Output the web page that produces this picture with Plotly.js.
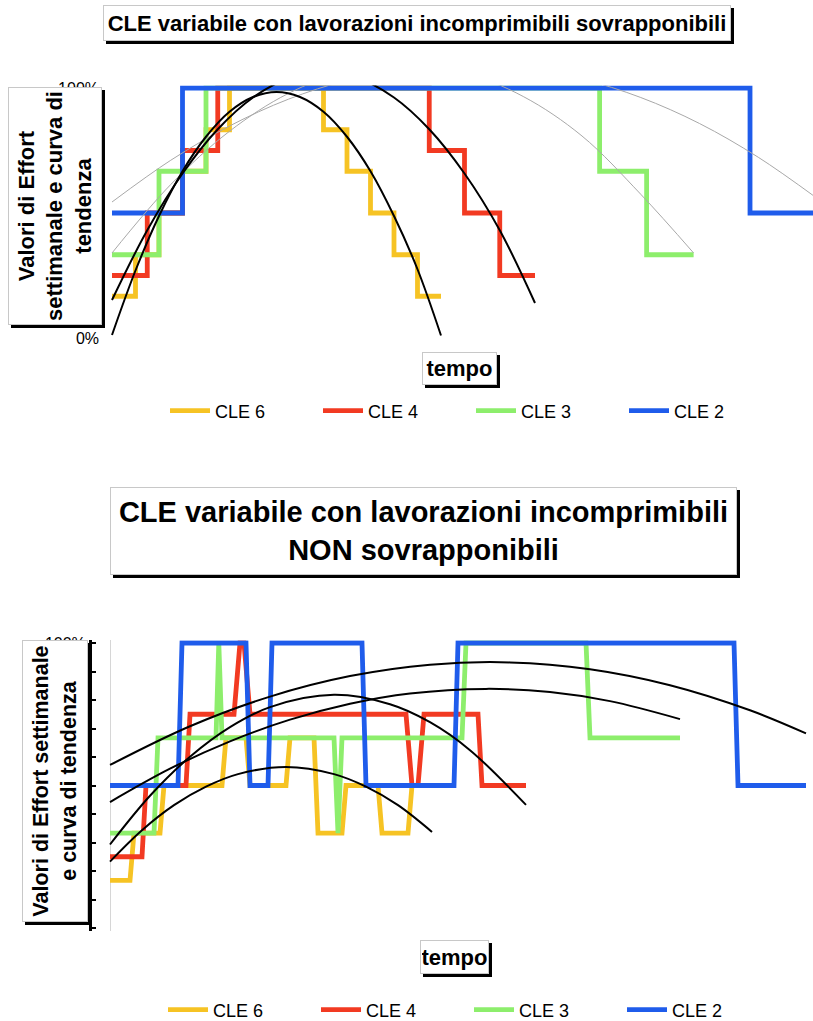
<!DOCTYPE html>
<html>
<head>
<meta charset="utf-8">
<script src="https://cdn.plot.ly/plotly-3.0.1.min.js"></script>
<style>html,body{margin:0;padding:0;background:#fff;}#chart{width:813px;height:1021px;}</style>
</head>
<body>
<div id="chart"></div>
<script>
// ---------- DATA ----------
// Top chart: CLE variabile con lavorazioni incomprimibili sovrapponibili (time in weeks)
const seriesNames = ['CLE 6', 'CLE 4', 'CLE 3', 'CLE 2'];
const topWeeksCLE6 = [0, 2, 4, 6, 8, 10, 18, 20, 22, 24, 26, 28];
const topCLE6      = [16.7, 33.3, 50, 66.7, 83.3, 100, 83.3, 66.7, 50, 33.3, 16.7, 16.7];
const topWeeksCLE4 = [0, 3, 6, 9, 27, 30, 33, 36];
const topCLE4      = [25, 50, 75, 100, 75, 50, 25, 25];
const topWeeksCLE3 = [0, 4, 8, 41.5, 45.5, 49.5];
const topCLE3      = [33.3, 66.7, 100, 66.7, 33.3, 33.3];
const topWeeksCLE2 = [0, 6, 54.3, 60];
const topCLE2      = [50, 100, 50, 50];

// Top chart trend curves
const topTrendWeeks6 = [0, 2, 4, 6, 8, 10, 12, 14, 16, 18, 20, 22, 24, 26, 28];
const topTrend6      = [1.2, 27.0, 48.8, 66.7, 80.5, 90.5, 96.4, 98.4, 96.4, 90.5, 80.5, 66.7, 48.8, 27.5, 1.0];
const topTrendWeeks4 = [0, 3, 6, 9, 12, 15, 18, 21, 24, 27, 30, 33, 36];
const topTrend4      = [15.2, 43.1, 65.8, 83.5, 96.2, 103.8, 106.3, 103.8, 96.2, 83.5, 65.8, 43.1, 14.0];
const topTrendWeeks3 = [0, 5, 10, 15, 20, 25, 30, 35, 40, 45, 49.5];
const topTrend3      = [34.0, 61.4, 82.7, 97.8, 106.7, 109.5, 106.1, 96.6, 80.8, 57.5, 34.0];
const topTrendWeeks2 = [0, 5, 10, 15, 20, 25, 30, 35, 40, 45, 50, 55, 60];
const topTrend2      = [54.4, 71.1, 84.8, 95.5, 103.1, 107.8, 109.4, 108.0, 103.6, 96.2, 85.8, 72.3, 55.9];

// Bottom chart: CLE variabile con lavorazioni incomprimibili NON sovrapponibili (time in weeks)
const botWeeksCLE6 = [0, 5, 6, 12.5, 13.5, 28, 29, 34, 35, 44, 45, 51, 52, 58, 59, 67, 68, 74.5, 75.5, 80];
const botCLE6      = [16.7, 16.7, 33.3, 33.3, 50, 50, 66.7, 66.7, 50, 50, 66.7, 66.7, 33.3, 33.3, 50, 50, 33.3, 33.3, 50, 50];
const botWeeksCLE4 = [0, 8, 9, 19, 20, 31, 32.5, 33.5, 35, 74, 75.5, 77, 78.5, 92, 93, 104];
const botCLE4      = [25, 25, 50, 50, 75, 75, 100, 100, 75, 75, 50, 50, 75, 75, 50, 50];
const botWeeksCLE3 = [0, 11, 12, 26.5, 27.2, 28, 56, 57, 58, 88, 89, 119, 120, 142.5];
const botCLE3      = [33.3, 33.3, 66.7, 66.7, 100, 66.7, 66.7, 33.3, 66.7, 66.7, 100, 100, 66.7, 66.7];
const botWeeksCLE2 = [0, 17, 18, 34, 35, 39.5, 40.5, 63, 64, 86, 87, 156, 157, 174];
const botCLE2      = [50, 50, 100, 100, 50, 50, 100, 100, 50, 50, 100, 100, 50, 50];

// Bottom chart trend curves
const botTrendWeeks6 = [0, 8, 16, 24, 32, 44, 56, 64, 72, 80.5];
const botTrend6      = [23.3, 34.3, 43.1, 49.6, 54.0, 56.5, 54.0, 49.6, 43.1, 33.7];
const botTrendWeeks4 = [0, 10, 20, 30, 40, 56, 70, 80, 90, 104];
const botTrend4      = [29.3, 46.4, 60.1, 70.5, 77.5, 81.8, 78.5, 72.2, 62.4, 43.2];
const botTrendWeeks3 = [0, 15, 30, 45, 60, 75, 94, 110, 125, 142.5];
const botTrend3      = [44.2, 55.9, 65.5, 73.1, 78.7, 82.3, 83.9, 82.8, 79.6, 73.3];
const botTrendWeeks2 = [0, 20, 40, 60, 80, 100, 120, 140, 160, 174];
const botTrend2      = [57.2, 70.8, 81.2, 88.4, 92.4, 93.2, 90.8, 85.2, 76.4, 68.3];

const topTickVals = [0, 100];
const topTickText = ['0%', '100%'];
const botTickVals = [0, 10, 20, 30, 40, 50, 60, 70, 80, 90, 100];
const botTickText = ['', '', '', '', '', '', '', '', '', '', '100%'];

const titleTop = '<b>CLE variabile con lavorazioni incomprimibili sovrapponibili</b>';
const titleBot = '<b>CLE variabile con lavorazioni incomprimibili<br>NON sovrapponibili</b>';
const yTitleTop = '<b>Valori di Effort<br>settimanale e curva di<br>tendenza</b>';
const yTitleBot = '<b>Valori di Effort settimanale<br>e curva di tendenza</b>';
const xTitle = '<b>tempo</b>';

// ---------- STYLE ----------
const W = 813, H = 1021;
const px = x => x / W;
const py = y => 1 - y / H;
const FONT = 'Liberation Sans, Arial, Helvetica, sans-serif';
const colors = ['#F6C324', '#F23A22', '#8DEE6C', '#1F5CEB'];

function step(x, y, i, xa, ya, leg, shape) {
  return {x: x, y: y, type: 'scatter', mode: 'lines', name: seriesNames[i],
    xaxis: xa, yaxis: ya, legend: leg, line: {color: colors[i], width: 4.8, shape: shape},
    hoverinfo: 'skip'};
}
function trend(x, y, xa, ya, color, width) {
  return {x: x, y: y, type: 'scatter', mode: 'lines', showlegend: false,
    xaxis: xa, yaxis: ya, line: {color: color, width: width, shape: 'spline'}, hoverinfo: 'skip'};
}

const data = [
  step(topWeeksCLE6, topCLE6, 0, 'x', 'y', 'legend', 'hv'),
  step(topWeeksCLE4, topCLE4, 1, 'x', 'y', 'legend', 'hv'),
  step(topWeeksCLE3, topCLE3, 2, 'x', 'y', 'legend', 'hv'),
  step(topWeeksCLE2, topCLE2, 3, 'x', 'y', 'legend', 'hv'),
  trend(topTrendWeeks3, topTrend3, 'x', 'y', '#a8a8a8', 1),
  trend(topTrendWeeks2, topTrend2, 'x', 'y', '#a8a8a8', 1),
  trend(topTrendWeeks6, topTrend6, 'x', 'y', '#000', 2),
  trend(topTrendWeeks4, topTrend4, 'x', 'y', '#000', 2),
  step(botWeeksCLE6, botCLE6, 0, 'x2', 'y2', 'legend2', 'linear'),
  step(botWeeksCLE4, botCLE4, 1, 'x2', 'y2', 'legend2', 'linear'),
  step(botWeeksCLE3, botCLE3, 2, 'x2', 'y2', 'legend2', 'linear'),
  step(botWeeksCLE2, botCLE2, 3, 'x2', 'y2', 'legend2', 'linear'),
  trend(botTrendWeeks6, botTrend6, 'x2', 'y2', '#000', 2),
  trend(botTrendWeeks4, botTrend4, 'x2', 'y2', '#000', 2),
  trend(botTrendWeeks3, botTrend3, 'x2', 'y2', '#000', 2),
  trend(botTrendWeeks2, botTrend2, 'x2', 'y2', '#000', 2)
];

function box(text, cx, cy, w, h, size, angle) {
  const common = {xref: 'paper', yref: 'paper', x: px(cx), y: py(cy), xanchor: 'center', yanchor: 'middle',
    showarrow: false, width: w, height: h, borderpad: 1, borderwidth: 1, textangle: angle || 0, align: 'center'};
  const shadow = Object.assign({}, common, {text: '&nbsp;', font: {family: FONT, size: size, color: '#000'},
    bgcolor: '#000', bordercolor: '#000', xshift: 3, yshift: -3});
  const main = Object.assign({}, common, {text: text, font: {family: FONT, size: size, color: '#000'},
    bgcolor: '#fff', bordercolor: '#c8c8c8'});
  return [shadow, main];
}

const annotations = [].concat(
  box(titleTop, 417, 23, 624, 32, 22),
  box(yTitleTop, 55, 206, 234, 90, 22, -90),
  box(xTitle, 459.5, 368.5, 71, 29, 22),
  box(titleBot, 423.5, 531, 623, 84, 29),
  box(yTitleBot, 55, 781, 278, 62, 21.5, -90),
  box(xTitle, 454.5, 957, 65, 30, 22)
);

const legendBase = {orientation: 'h', xanchor: 'left', yanchor: 'middle', entrywidth: 98, entrywidthmode: 'pixels',
  font: {family: FONT, size: 18, color: '#000'}, bgcolor: 'rgba(0,0,0,0)', itemwidth: 40, traceorder: 'normal'};

const layout = {
  width: W, height: H, margin: {l: 0, r: 0, t: 0, b: 0, autoexpand: false},
  paper_bgcolor: '#fff', plot_bgcolor: '#fff',
  font: {family: FONT, size: 16, color: '#000'},
  showlegend: true,
  legend: Object.assign({}, legendBase, {x: px(165), y: py(411)}),
  legend2: Object.assign({}, legendBase, {x: px(163), y: py(1010)}),
  xaxis: {domain: [px(100), 1], range: [-1.021, 59.66], anchor: 'y', showgrid: false, zeroline: false,
    showline: false, showticklabels: false, ticks: ''},
  yaxis: {domain: [py(340.5), py(85.5)], range: [-1, 101], anchor: 'x', showgrid: false, zeroline: false,
    showline: false, ticks: '', tickvals: topTickVals, ticktext: topTickText, tickfont: {family: FONT, size: 16}},
  xaxis2: {domain: [px(92), 1], range: [-4.5, 175.75], anchor: 'y2', showgrid: false, zeroline: true,
    zerolinecolor: '#d6d6d6', zerolinewidth: 1, showline: false, showticklabels: false, ticks: ''},
  yaxis2: {domain: [py(930.85), py(640.15)], range: [-1, 101], anchor: 'x2', showgrid: false, zeroline: false,
    showline: true, linecolor: '#000', linewidth: 3, ticks: 'inside', ticklen: 4, tickwidth: 2, tickcolor: '#000',
    tickvals: botTickVals, ticktext: botTickText, tickfont: {family: FONT, size: 16}},
  annotations: annotations
};

Plotly.newPlot('chart', data, layout, {displayModeBar: false, staticPlot: true});
</script>
</body>
</html>
